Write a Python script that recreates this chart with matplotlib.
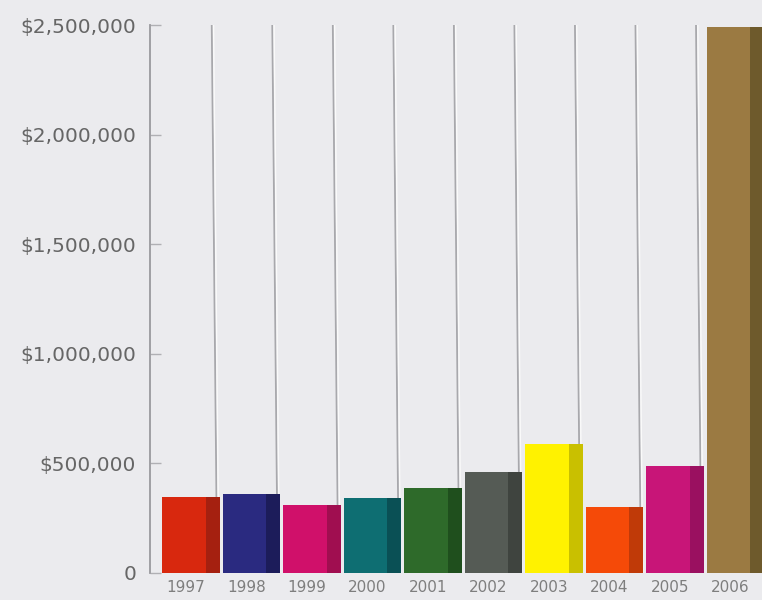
import matplotlib
matplotlib.use("Agg")
import matplotlib.pyplot as plt
from matplotlib.ticker import FuncFormatter

years = ["1997", "1998", "1999", "2000", "2001", "2002", "2003", "2004", "2005", "2006"]
values = [345000, 360000, 310000, 340000, 390000, 460000, 590000, 300000, 490000, 2490000]
front_colors = ["#d8280e", "#2a2a80", "#d0106a", "#0e6e72", "#2e6a2a",
                "#555b55", "#fff200", "#f54a08", "#c81578", "#9b7a42"]
side_colors = ["#a52010", "#1c1c5a", "#a00e50", "#0a5055", "#1f4f1d",
               "#3f443f", "#c9c000", "#c03a08", "#9a1060", "#6e5a2c"]
yticks = [0, 500000, 1000000, 1500000, 2000000, 2500000]

BG = "#ebebee"
fig = plt.figure(figsize=(7.62, 6.0), dpi=100, facecolor=BG)
ax = fig.add_axes([150 / 762, 27 / 600, 612 / 762, 548 / 600], facecolor=BG)

x = list(range(len(years)))
front_w = 0.72
side_w = 0.23

# separator lines (slightly slanted), behind the bars
for i in x[:-1]:
    ax.plot([i + 0.46, i + 0.37], [0, 2500000], color="#a8a8ac", lw=1.3, zorder=1, solid_capstyle="butt")
    ax.plot([i + 0.49, i + 0.40], [0, 2500000], color="#fafafa", lw=1.0, zorder=1, solid_capstyle="butt")

ax.bar([i - 0.45 for i in x], values, width=front_w, align="edge",
       color=front_colors, edgecolor="none", zorder=3)
ax.bar([i - 0.45 + front_w for i in x], values, width=side_w, align="edge",
       color=side_colors, edgecolor="none", zorder=3)

ax.set_xlim(-0.65, 9.46)
ax.set_ylim(0, 2500000)

ax.set_yticks(yticks)
ax.yaxis.set_major_formatter(FuncFormatter(lambda v, p: "0" if v == 0 else "${:,.0f}".format(v)))
ax.tick_params(axis="y", direction="in", length=8, width=1, color="#b0b0b4",
               labelsize=14.5, labelcolor="#666666", pad=10)
for t in ax.get_yticklabels():
    t.set_fontfamily("DejaVu Sans")

ax.set_xticks([i - 0.06 for i in x])
ax.set_xticklabels(years)
ax.tick_params(axis="x", length=0, labelsize=11, labelcolor="#7e7e7e", pad=5)

for s in ["top", "right", "bottom"]:
    ax.spines[s].set_visible(False)
ax.spines["left"].set_color("#9a9a9e")
ax.spines["left"].set_linewidth(1.3)

fig.savefig("out.png", dpi=100, facecolor=BG)
